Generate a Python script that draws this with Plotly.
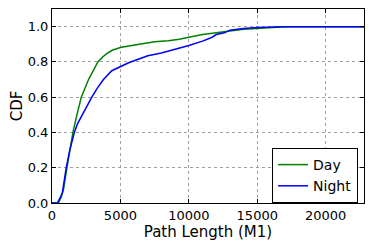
import plotly.graph_objects as go

day_x = [0, 480, 700, 850, 1090, 1300, 1530, 1820, 2140, 2670, 3000, 3350, 3700, 4050, 4400, 4730, 5000, 5600, 6500, 7500, 8500, 9300, 10000, 11000, 12000, 13000, 14000, 15000, 16000, 17000, 22800]
day_y = [0.0, 0.0, 0.04, 0.08, 0.2, 0.3, 0.4, 0.5, 0.6, 0.7, 0.75, 0.8, 0.828, 0.85, 0.866, 0.876, 0.882, 0.89, 0.903, 0.914, 0.92, 0.928, 0.94, 0.955, 0.965, 0.975, 0.985, 0.99, 0.996, 1.0, 1.0]

night_x = [0, 380, 600, 760, 900, 1040, 1300, 1630, 1870, 2200, 2550, 2910, 3300, 3760, 4370, 5000, 5600, 6300, 7000, 8000, 9000, 10000, 11000, 11700, 12000, 12600, 13000, 14000, 15000, 16000, 17000, 22800]
night_y = [0.0, 0.0, 0.03, 0.06, 0.13, 0.2, 0.3, 0.4, 0.45, 0.5, 0.55, 0.6, 0.65, 0.7, 0.75, 0.775, 0.795, 0.815, 0.835, 0.85, 0.87, 0.893, 0.918, 0.94, 0.955, 0.965, 0.98, 0.99, 0.995, 0.998, 1.0, 1.0]

x_ticks = [0, 5000, 10000, 15000, 20000]
y_ticks = [0.0, 0.2, 0.4, 0.6, 0.8, 1.0]

fig = go.Figure()
fig.add_trace(go.Scatter(x=day_x, y=day_y, mode="lines", name="Day",
                         line=dict(color="#008000", width=1.5)))
fig.add_trace(go.Scatter(x=night_x, y=night_y, mode="lines", name="Night",
                         line=dict(color="#0000ff", width=1.5)))

axis_common = dict(showline=True, linecolor="black", linewidth=1, mirror="ticks",
                   ticks="inside", ticklen=4, tickcolor="black",
                   showgrid=True, gridcolor="#a0a0a0", griddash="dot", gridwidth=1,
                   zeroline=False, automargin=False,
                   tickfont=dict(size=13, color="black", family="DejaVu Sans"))

fig.update_xaxes(range=[0, 22800], tickvals=x_ticks, ticktext=[str(v) for v in x_ticks],
                 title=dict(text="Path Length (M1)", font=dict(size=15, color="black", family="DejaVu Sans"), standoff=1),
                 **axis_common)
fig.update_yaxes(range=[0, 1.1], tickvals=y_ticks, ticktext=[f"{v:.1f}" for v in y_ticks],
                 title=dict(text="CDF", font=dict(size=15, color="black", family="DejaVu Sans"), standoff=1),
                 **axis_common)

fig.update_layout(
    width=374, height=249,
    margin=dict(l=52, r=10, t=9, b=46),
    paper_bgcolor="white", plot_bgcolor="white",
    font=dict(family="DejaVu Sans", color="black"),
    legend=dict(x=0.981, y=0.0, xanchor="right", yanchor="bottom",
                bgcolor="white", bordercolor="black", borderwidth=1,
                font=dict(size=14, color="black", family="DejaVu Sans"), itemwidth=30),
    showlegend=True,
)

fig.write_html("out.html", config={"displayModeBar": False},
               post_script="document.body.style.margin='0';")
